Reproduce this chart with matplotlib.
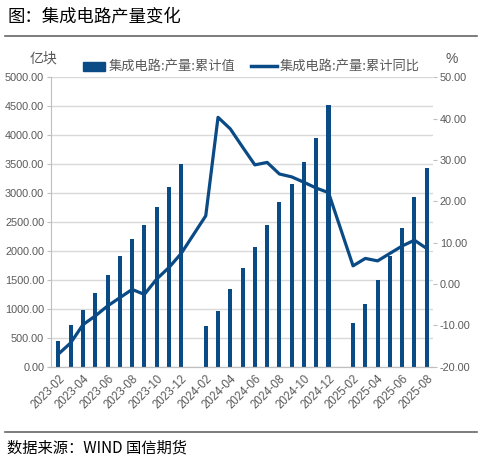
import numpy as np
import matplotlib.pyplot as plt

plt.rcParams['font.family'] = ['Noto Sans CJK SC', 'DejaVu Sans']

months = [f'{y}-{m:02d}' for y in (2023, 2024, 2025) for m in range(1, 13)]
months = months[1:months.index('2025-08') + 1]

# cumulative output, 100 million pieces (None = January, no release)
output = [444, 715, 986, 1280, 1592, 1915, 2215, 2440, 2762, 3108, 3506,
          None, 703, 969, 1349, 1707, 2076, 2440, 2837, 3160, 3529, 3945, 4521,
          None, 755, 1084, 1499, 1915, 2393, 2935, 3431]
# cumulative yoy, %
yoy = [-16.9, -14.2, -9.8, -7.7, -5.3, -3.3, -1.3, -2.5, 1.2, 4.0, 7.4,
       None, 16.5, 40.3, 37.5, 33.1, 28.8, 29.4, 26.6, 25.9, 24.6, 23.2, 22.1,
       None, 4.4, 6.2, 5.6, 7.4, 9.2, 10.6, 8.6]

blue = '#0a4a85'
grey = '#595959'

x = np.arange(len(months))
out = np.array([np.nan if v is None else v for v in output], dtype=float)
yy = np.array([np.nan if v is None else v for v in yoy], dtype=float)
ok = ~np.isnan(yy)

fig = plt.figure(figsize=(4.82, 4.62), dpi=100)
ax = fig.add_axes([0.106, 0.206, 0.792, 0.627])
ax2 = ax.twinx()

ax.bar(x, out, width=0.33, color=blue, zorder=2)
ax2.plot(x[ok], yy[ok], color=blue, lw=2.3, zorder=3)

ax.set_xlim(-0.6, len(months) - 0.5)
ax.set_ylim(0, 5000)
ax.set_yticks(np.arange(0, 5001, 500))
ax.set_yticklabels([f'{v:.2f}' for v in np.arange(0, 5001, 500)])
ax2.set_ylim(-20, 50)
ax2.set_yticks(np.arange(-20, 51, 10))
ax2.set_yticklabels([f'{v:.2f}' for v in np.arange(-20, 51, 10)])
ax.grid(axis='y', color='#d9d9d9', lw=1, zorder=0)
ax.set_axisbelow(True)

ax.set_xticks(x[::2])
ax.set_xticklabels(months[::2], rotation=45, ha='right', rotation_mode='anchor')

narrow = ['Liberation Sans', 'DejaVu Sans']
for a in (ax, ax2):
    for s in ('top', 'right'):
        a.spines[s].set_visible(False)
    a.spines['left'].set_visible(False)
    a.spines['bottom'].set_color('#bfbfbf')
    a.tick_params(colors=grey, labelsize=7.8, length=3)
    a.tick_params(axis='y', color='#bfbfbf')
    for t in a.get_yticklabels() + a.get_xticklabels():
        t.set_family(narrow)
ax.spines['left'].set_visible(True)
ax.spines['left'].set_color('#bfbfbf')
ax.tick_params(axis='x', length=0, pad=4, labelsize=8.3)
ax.tick_params(axis='y', pad=2)
ax2.tick_params(axis='y', pad=2)

fig.text(0.015, 0.965, '图：集成电路产量变化', fontsize=12.5, color='black', va='center')
fig.add_artist(plt.Line2D([0.01, 0.99], [0.922, 0.922], color='#666666', lw=1.2))
fig.add_artist(plt.Line2D([0.01, 0.99], [0.065, 0.065], color='#666666', lw=1.2))
fig.text(0.015, 0.03, '数据来源：WIND 国信期货', fontsize=11, color='black', va='center')

fig.text(0.062, 0.873, '亿块', fontsize=10, color=grey, va='center')
fig.text(0.925, 0.873, '%', fontsize=10, color=grey, va='center', family=narrow)

fig.add_artist(plt.Rectangle((0.172, 0.846), 0.046, 0.02, color=blue, transform=fig.transFigure))
fig.text(0.226, 0.857, '集成电路:产量:累计值', fontsize=9.5, color=grey, va='center')
fig.add_artist(plt.Line2D([0.52, 0.574], [0.857, 0.857], color=blue, lw=2.5))
fig.text(0.58, 0.857, '集成电路:产量:累计同比', fontsize=9.5, color=grey, va='center')

fig.savefig('out.png', dpi=100)
